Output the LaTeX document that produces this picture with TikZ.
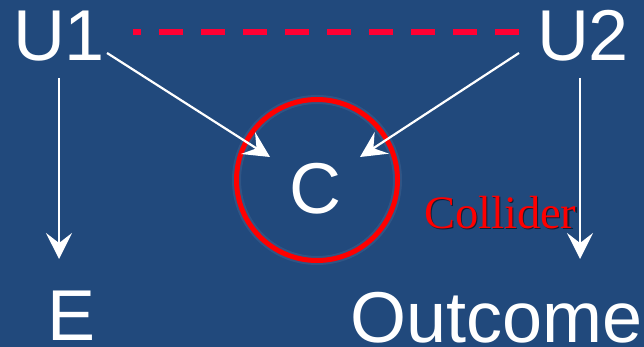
\documentclass[tikz,border=0pt]{standalone}
\usepackage{fontspec}
\setmainfont{Liberation Sans}
\newfontfamily\collfont{Liberation Serif}
\usetikzlibrary{arrows.meta}
\definecolor{bg}{RGB}{33,73,124}
\definecolor{dashred}{RGB}{255,0,51}
\definecolor{ringred}{RGB}{255,0,0}
\begin{document}
\begin{tikzpicture}[x=1pt,y=-1pt,
  var/.style={text=white,inner sep=0pt,outer sep=0pt,anchor=base west,
              font=\fontsize{72}{80}\selectfont},
  edge/.style={draw=white,line width=2.2pt,
               -{Stealth[length=26pt,width=26pt,inset=10pt]}},
  assoc/.style={draw=dashred,line width=6pt,dash pattern=on 24pt off 18pt},
  ring/.style={circle,draw=ringred,line width=5pt,minimum size=161pt,inner sep=0pt},
  tag/.style={inner sep=0pt,outer sep=0pt,anchor=base west,
              font=\collfont\fontsize{46.5}{50}\selectfont}]
  % canvas
  \useasboundingbox (0,0) rectangle (644,347);
  \fill[bg] (0,0) rectangle (644,347);

  % variables
  \node[var] (U1) at (13,61) {U1};
  \node[var] (U2) at (537,61) {U2};
  \node[var] (C) at (289,213) {C};
  \node[var] (E) at (47,340) {E};
  \node[var] (Out) at (350,342) {Outcome};

  % collider ring with a soft halo
  \draw[white,opacity=0.07,line width=9pt] (317,180) circle[radius=80.5pt];
  \node[ring] (R) at (317,180) {};

  % label with drop shadow
  \node[tag,text=black,opacity=0.55] at (425.5,229.5) {Collider};
  \node[tag,text=ringred] (lbl) at (424,228) {Collider};

  % unmeasured association
  \draw[assoc] ([shift={(-18,-29)}]U2.base west) -- ([shift={(28,-29)}]U1.base east);

  % causal arrows
  \draw[edge] ([shift={(2,-8)}]U1.base east) -- ([shift={(-19,-56)}]C.base west);
  \draw[edge] ([shift={(-18,-8)}]U2.base west) -- ([shift={(19,-56)}]C.base east);
  \draw[edge] ([shift={(0,17)}]U1.base) -- ([shift={(0,-81)}]U1.base |- E.base);
  \draw[edge] ([shift={(-3,17)}]U2.base) -- ([shift={(-3,-83)}]U2.base |- Out.base);
\end{tikzpicture}
\end{document}
